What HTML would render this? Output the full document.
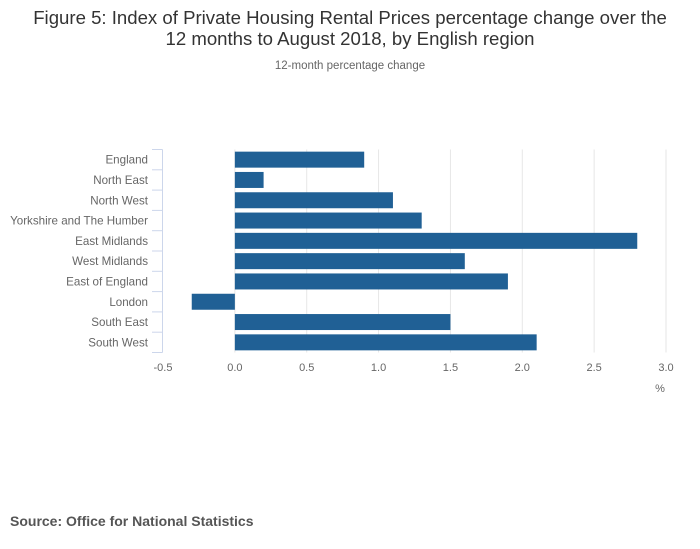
<!DOCTYPE html>
<html><head><meta charset="utf-8"><style>
body{margin:0;background:#fff;font-family:"Liberation Sans","DejaVu Sans",sans-serif;}
svg{display:block}
</style></head><body>
<svg id="c" width="700" height="549" xmlns="http://www.w3.org/2000/svg">
<text x="350" y="24" text-anchor="middle" font-size="18.6" fill="#333">Figure 5: Index of Private Housing Rental Prices percentage change over the</text>
<text x="350" y="45" text-anchor="middle" font-size="18.6" fill="#333">12 months to August 2018, by English region</text>
<text x="350" y="69" text-anchor="middle" font-size="11.5" fill="#666">12-month percentage change</text>
<g id="grid"></g><g id="bars"></g><g id="yaxis"></g><g id="xaxis"></g>
<text x="660" y="392" text-anchor="middle" font-size="11" fill="#666">%</text>
<text x="10" y="526" font-size="14" font-weight="bold" fill="#555">Source: Office for National Statistics</text>
</svg>
<script>
const categories=["England","North East","North West","Yorkshire and The Humber","East Midlands","West Midlands","East of England","London","South East","South West"];
const values=[0.9,0.2,1.1,1.3,2.8,1.6,1.9,-0.3,1.5,2.1];
const ticks=[-0.5,0,0.5,1,1.5,2,2.5,3];
const tickLabels=["-0.5","0.0","0.5","1.0","1.5","2.0","2.5","3.0"];
const NS="http://www.w3.org/2000/svg";
const x0=163,x1=666,vmin=-0.5,vmax=3,plotTop=149.5,plotBottom=352.5;
const xs=v=>x0+(v-vmin)/(vmax-vmin)*(x1-x0);
const band=(plotBottom-plotTop)/categories.length;
const ys=i=>plotTop+i*band;
function mk(t,a,p){const e=document.createElementNS(NS,t);for(const k in a)e.setAttribute(k,a[k]);p.appendChild(e);return e;}
const grid=document.getElementById('grid'),bars=document.getElementById('bars'),ya=document.getElementById('yaxis'),xa=document.getElementById('xaxis');
ticks.forEach((t,i)=>{
  if(i>0){const l=mk('line',{x1:xs(t),x2:xs(t),y1:plotTop,y2:plotBottom,stroke:'#e6e6e6','stroke-width':1},grid);
  
  }
  const tx=mk('text',{x:xs(t),y:371,'text-anchor':'middle','font-size':11,fill:'#666'},xa);
  tx.textContent=tickLabels[i];
  
  
});
const ax=mk('line',{x1:162.5,x2:162.5,y1:plotTop,y2:plotBottom,stroke:'#ccd6eb','stroke-width':1},ya);


for(let i=0;i<=categories.length;i++){
  const tk=mk('line',{x1:152,x2:162.5,y1:ys(i),y2:ys(i),stroke:'#ccd6eb','stroke-width':1},ya);
  
  
}
categories.forEach((c,i)=>{
  const cy=ys(i)+band/2;
  const tx=mk('text',{x:148,y:cy+4,'text-anchor':'end','font-size':11.6,fill:'#666'},ya);
  tx.textContent=c;
  
  
  const v=values[i],a=Math.min(xs(0),xs(v)),w=Math.abs(xs(v)-xs(0));
  const r=mk('rect',{x:a,y:cy-8,width:w,height:16,fill:'#206095'},bars);
  
  
});
</script>
</body></html>
